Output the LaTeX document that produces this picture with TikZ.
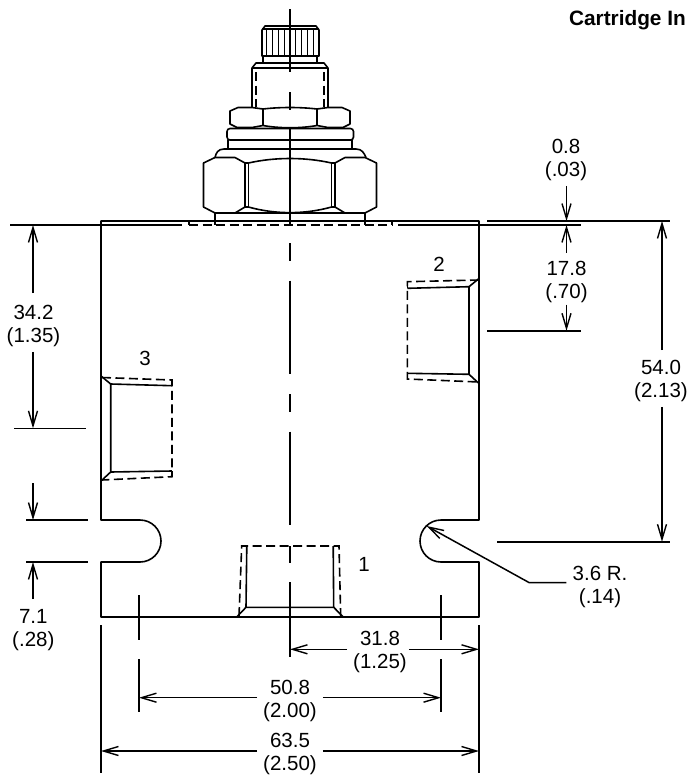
\documentclass[tikz,border=0pt]{standalone}
\usepackage{fontspec}
\setmainfont{Liberation Sans}
\usetikzlibrary{arrows.meta}
\tikzset{
	part/.style={line width=1.6pt, line join=round},
	hidden/.style={line width=1.6pt, dash pattern=on 9pt off 4.5pt},
	dimline/.style={line width=1.5pt, -{Straight Barb[length=15pt,width=9pt,line width=1.4pt]}},
	dimtext/.style={align=center, inner xsep=6pt, inner ysep=5pt, font=\fontsize{20.5}{23}\selectfont},
	portnum/.style={inner sep=0pt, font=\fontsize{20.5}{23}\selectfont}
}
\begin{document}
\begin{tikzpicture}[x=1pt, y=-1pt]
	\useasboundingbox (0,0) rectangle (688,777);
	% body
	\draw[part] (101,221) -- (101,520) -- (140,520) .. controls (151.6,520) and (161,529.4) .. (161,541) .. controls (161,552.6) and (151.6,562) .. (140,562) -- (101,562) -- (101,617) -- (479,617) -- (479,562) -- (441,562) .. controls (429.4,562) and (420,552.6) .. (420,541) .. controls (420,529.4) and (429.4,520) .. (441,520) -- (479,520) -- (479,221) -- cycle;
	\draw[hidden] (189,225) -- (392,225);
	\draw[part] (189,221) -- (189,225);
	\draw[part] (392,221) -- (392,225);
	% knob
	\draw[part] (262,56) -- (262,30) -- (265,26) -- (316,26) -- (319,30) -- (319,56) -- cycle;
	\draw[part] (262,29) -- (319,29);
	\foreach \kx in {266.7,272.6,278.4,284.2,295.8,301.6,307.4,313.3}
		\draw[line width=1pt] (\kx,29) -- (\kx,56);
	\draw[part] (263,56) -- (263,63);
	\draw[part] (317,56) -- (317,63);
	% sleeve
	\draw[part] (252,107) -- (252,68) -- (256,63) -- (324,63) -- (328,68) -- (328,107);
	\draw[part] (252,68) -- (328,68);
	\draw[hidden] (256,72) -- (256,107);
	\draw[hidden] (324,72) -- (324,107);
	% small nut
	\draw[part] (263,109) -- (252,107.5) -- (238,107.5) -- (230,111) -- (230,124) -- (237,127.5) -- (252,127.5) -- (263,125.5) -- cycle;
	\draw[part] (317,109) -- (328,107.5) -- (342,107.5) -- (350,111) -- (350,124) -- (343,127.5) -- (328,127.5) -- (317,125.5) -- cycle;
	\draw[part] (263,109) .. controls (280,107) and (300,107) .. (317,109);
	\draw[part] (263,125.5) .. controls (280,128.5) and (300,128.5) .. (317,125.5);
	% collar
	\draw[part, rounded corners=3pt] (227,140) -- (227,128.5) -- (353.5,128.5) -- (353.5,140) -- cycle;
	\draw[part] (228,140) -- (228,149);
	\draw[part] (352,140) -- (352,149);
	\draw[part] (215,157.5) .. controls (216,153) and (218,149) .. (224,149) -- (356,149) .. controls (362,149) and (364,153) .. (366,157.5);
	% large nut
	\draw[part] (245,207) -- (245,163) -- (235,157.5) -- (215,157.5) -- (203.5,163) -- (203.5,207) -- (215,213) -- (235,213) -- cycle;
	\draw[part] (335,207) -- (335,163) -- (345,157.5) -- (365,157.5) -- (376.5,163) -- (376.5,207) -- (365,213) -- (345,213) -- cycle;
	\draw[part] (248.5,207) -- (248.5,163) -- (245,163);
	\draw[part] (331.5,207) -- (331.5,163) -- (335,163);
	\draw[part] (248.5,163) .. controls (275,157) and (305,157) .. (331.5,163);
	\draw[part] (245,207) -- (248.5,207) .. controls (275,214.5) and (305,214.5) .. (331.5,207) -- (335,207);
	\draw[part] (215,213) -- (365,213);
	\draw[part] (215,213) -- (215,225);
	\draw[part] (365,213) -- (365,225);
	% port 2
	\draw[part] (479,278.5) -- (469,286.7) -- (469,374.3) -- (479,383.5);
	\draw[part] (469,286.7) -- (407.3,288.3);
	\draw[part] (469,374.3) -- (407.3,373.3);
	\draw[part] (407.3,281.7) -- (407.3,288.3);
	\draw[part] (407.3,373.3) -- (407.3,379);
	\draw[hidden] (479,280) -- (407.3,281.7) -- (407.3,379) -- (479,382);
	% port 3
	\draw[part] (101,376) -- (110.7,384) -- (110.7,472) -- (101,481);
	\draw[part] (110.7,384) -- (172,385.7);
	\draw[part] (110.7,472) -- (172,471);
	\draw[part] (172,380) -- (172,385.7);
	\draw[part] (172,471) -- (172,476.7);
	\draw[hidden] (102,377.5) -- (172,380) -- (172,476.7) -- (102,480);
	% port 1
	\draw[part] (236.7,617) -- (246,607.3) -- (333.7,607.3) -- (343.3,617);
	\draw[part] (246,607.3) -- (246.8,546);
	\draw[part] (333.7,607.3) -- (333.2,546);
	\draw[hidden] (239,616) -- (241.7,546) -- (339,546) -- (340.7,616);
	% centre line
	\draw[part] (290,9) -- (290,72);
	\draw[part] (290,92) -- (290,110);
	\draw[part] (290,128) -- (290,224);
	\draw[part] (290,243.3) -- (290,261);
	\draw[part] (290,280.7) -- (290,374.3);
	\draw[part] (290,394) -- (290,412.3);
	\draw[part] (290,431.7) -- (290,525.3);
	\draw[part] (290,546) -- (290,563);
	\draw[part] (290,582) -- (290,657);
	% extension lines
	\draw[part] (10,225) -- (182,225);
	\draw[part] (398,225) -- (581,225);
	\draw[part] (487,221) -- (670,221);
	\draw[part] (487,330.7) -- (581,330.7);
	\draw[part] (14,428.3) -- (86,428.3);
	\draw[part] (26,520) -- (88,520);
	\draw[part] (26,562) -- (88,562);
	\draw[part] (497,541.7) -- (670,541.7);
	\draw[part] (139,595) -- (139,640);
	\draw[part] (139,659) -- (139,712);
	\draw[part] (441,595) -- (441,640);
	\draw[part] (441,659) -- (441,712);
	\draw[part] (101,625) -- (101,773);
	\draw[part] (479,625) -- (479,773);
	% tips of the dimension lines
	\coordinate (tip08) at (566.5,221);
	\coordinate (tip178a) at (566.5,225);
	\coordinate (tip178b) at (566.5,330.7);
	\coordinate (tip540a) at (662,221);
	\coordinate (tip540b) at (662,541.7);
	\coordinate (tip342a) at (33,225);
	\coordinate (tip342b) at (33,428.3);
	\coordinate (tip71a) at (33,520);
	\coordinate (tip71b) at (33,562);
	\coordinate (tip318a) at (290,649.3);
	\coordinate (tip318b) at (479,649.3);
	\coordinate (tip508a) at (139,697.7);
	\coordinate (tip508b) at (441,697.7);
	\coordinate (tip635a) at (101,751);
	\coordinate (tip635b) at (479,751);
	\coordinate (tip36) at (426.7,526);
	\coordinate (free71) at (33,483.3);
	\coordinate (bend36) at (529.3,582.7);
	% labels
	\node[dimtext] (d08) at (566,160) {0.8\\(.03)};
	\node[dimtext] (d178) at (566.5,281.7) {17.8\\(.70)};
	\node[dimtext] (d540) at (661,381) {54.0\\(2.13)};
	\node[dimtext] (d342) at (33.5,326) {34.2\\(1.35)};
	\node[dimtext] (d71) at (33.3,630) {7.1\\(.28)};
	\node[dimtext] (d318) at (380,652) {31.8\\(1.25)};
	\node[dimtext] (d508) at (290,701) {50.8\\(2.00)};
	\node[dimtext] (d635) at (290,754) {63.5\\(2.50)};
	\node[dimtext] (d36) at (600,586.5) {3.6 R.\\(.14)};
	\node[portnum] (port1) at (364,564) {1};
	\node[portnum] (port2) at (439,264) {2};
	\node[portnum] (port3) at (145,358) {3};
	\node[portnum, anchor=east, font=\fontsize{20.8}{23}\selectfont\bfseries] (title) at (686,20) {Cartridge In};
	% dimension lines
	\draw[dimline] (tip08 |- d08.south) -- (tip08);
	\draw[dimline, shorten <=3pt] (tip178a |- d178.north) -- (tip178a);
	\draw[dimline, shorten <=-3pt] (tip178b |- d178.south) -- (tip178b);
	\draw[dimline, shorten <=5pt] (tip540a |- d540.north) -- (tip540a);
	\draw[dimline] (tip540b |- d540.south) -- (tip540b);
	\draw[dimline, shorten <=7pt] (tip342a |- d342.north) -- (tip342a);
	\draw[dimline] (tip342b |- d342.south) -- (tip342b);
	\draw[dimline] (free71) -- (tip71a);
	\draw[dimline, shorten <=5pt] (tip71b |- d71.north) -- (tip71b);
	\draw[dimline] (d318.west |- tip318a) -- (tip318a);
	\draw[dimline, shorten <=-4pt] (d318.east |- tip318b) -- (tip318b);
	\draw[dimline] (d508.west |- tip508a) -- (tip508a);
	\draw[dimline] (d508.east |- tip508b) -- (tip508b);
	\draw[dimline] (d635.west |- tip635a) -- (tip635a);
	\draw[dimline] (d635.east |- tip635b) -- (tip635b);
	\draw[dimline] (d36.west |- bend36) -- (bend36) -- (tip36);
\end{tikzpicture}
\end{document}
